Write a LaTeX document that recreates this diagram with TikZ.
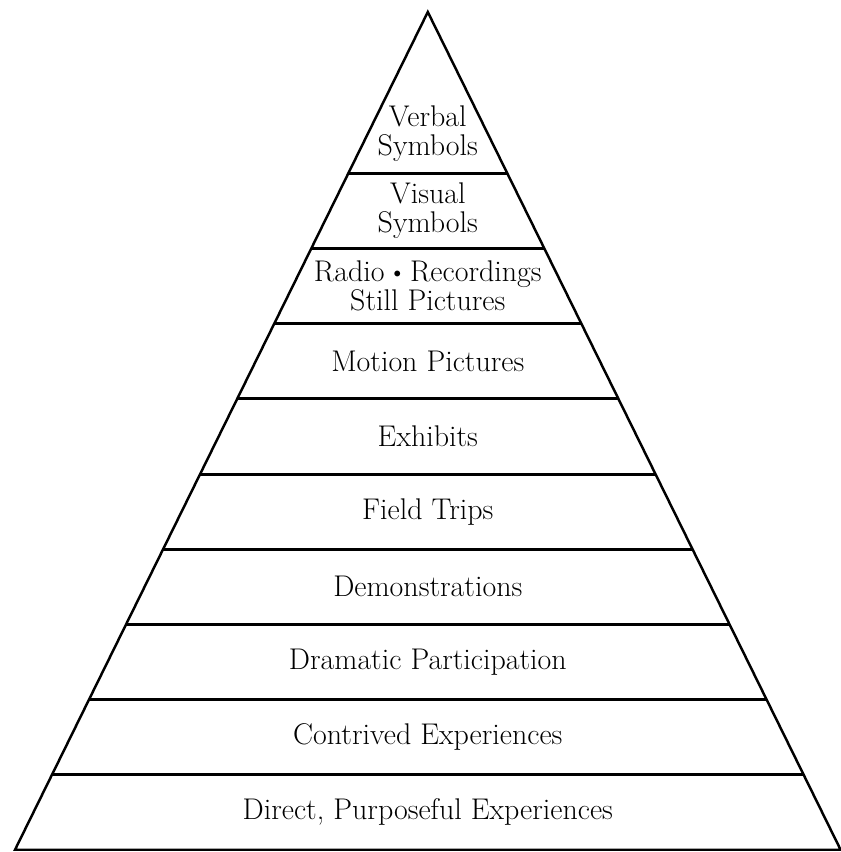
\documentclass[tikz,border=0pt]{standalone}
\usepackage{tikz}

\begin{document}
\begin{tikzpicture}[x=1.5cm,y=1.5cm]
\tikzset{
  band/.style={line width=1.7pt},
  side/.style={line width=1.4pt,line join=miter},
  tier/.style={font=\fontsize{17}{16.5}\selectfont,align=center}
}
\useasboundingbox (0,-0.03) rectangle (11.19,11.31);
% outline of the cone
\coordinate (apex) at (5.694,11.15);
\coordinate (left) at (0.2,0);
\coordinate (right) at (11.188,0);
\draw[side] (left) -- (apex) -- (right) -- cycle;
% band lines
\draw[band] (0.69,1) to (10.70,1);
\draw[band] (1.19,2) to (10.20,2);
\draw[band] (1.68,3) to (9.71,3);
\draw[band] (2.17,4) to (9.22,4);
\draw[band] (2.66,5) to (8.73,5);
\draw[band] (3.16,6) to (8.23,6);
\draw[band] (3.65,7) to (7.74,7);
\draw[band] (4.14,8) to (7.25,8);
\draw[band] (4.63,9) to (6.75,9);
% labels
\node[tier] (verbal) at (5.694,9.53) {Verbal\\Symbols};
\node[tier] (visual) at (5.694,8.5) {Visual\\Symbols};
\node[tier] (radio) at (5.694,7.5) {Radio \raisebox{0.35ex}{\footnotesize$\bullet$} Recordings\\Still Pictures};
\node[tier] (motion) at (5.694,6.5) {Motion Pictures};
\node[tier] (exhibits) at (5.694,5.5) {Exhibits};
\node[tier] (trips) at (5.694,4.5) {Field Trips};
\node[tier] (demos) at (5.694,3.5) {Demonstrations};
\node[tier] (dramatic) at (5.694,2.5) {Dramatic Participation};
\node[tier] (contrived) at (5.694,1.5) {Contrived Experiences};
\node[tier] (direct) at (5.694,0.5) {Direct, Purposeful Experiences};
\end{tikzpicture}
\end{document}
